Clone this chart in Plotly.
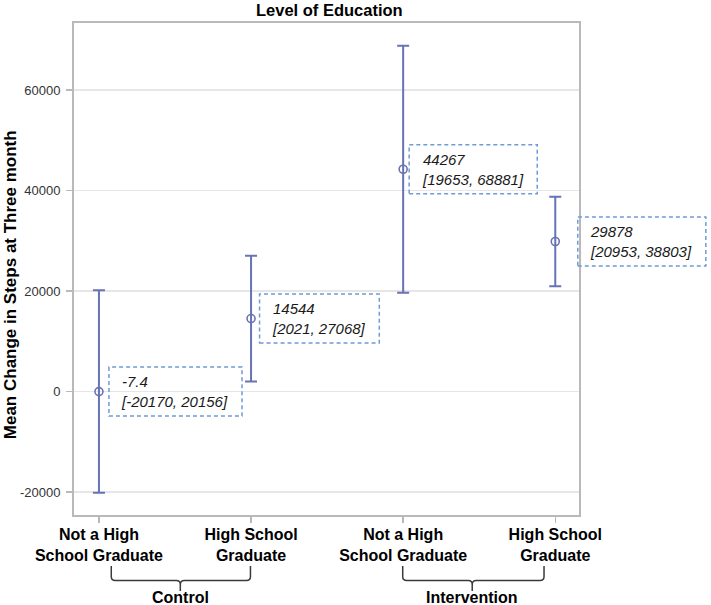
import plotly.graph_objects as go

# ---- data ----
categories = ["Not a High<br>School Graduate", "High School<br>Graduate",
              "Not a High<br>School Graduate", "High School<br>Graduate"]
groups = ["Control", "Intervention"]
means = [-7.4, 14544, 44267, 29878]
lower = [-20170, 2021, 19653, 20953]
upper = [20156, 27068, 68881, 38803]
mean_labels = ["-7.4", "14544", "44267", "29878"]
y_tickvals = [-20000, 0, 20000, 40000, 60000]
y_ticktext = ["-20000", "0", "20000", "40000", "60000"]

# ---- layout constants (page pixels) ----
W, H = 711, 605
PLOT_LEFT, PLOT_RIGHT, PLOT_TOP, PLOT_BOTTOM = 74, 579.5, 22.7, 515
L = PLOT_LEFT
T = PLOT_TOP
R = W - PLOT_RIGHT
B = H - PLOT_BOTTOM
PLOT_W = PLOT_RIGHT - PLOT_LEFT
PLOT_H = PLOT_BOTTOM - PLOT_TOP
X_RANGE = [-0.164, 3.156]
Y_RANGE = [-24580, 73390]
FONT = "Liberation Sans, Arial, sans-serif"
BAR_COLOR = "#6773b4"
BOX_COLOR = "#6f9bd6"
LABEL_DX = [10, 8.5, 6, 22.5]      # pixel offset of label box from point
GROUP_SPAN = [(0.081, 0.996, 0.535), (1.997, 2.926, 2.454)]  # bracket left/right/centre (x data)


def px_to_paper_y(py):
    return (PLOT_BOTTOM - py) / PLOT_H


def px_to_paper_x(px):
    return (px - PLOT_LEFT) / PLOT_W


def xdata_to_paper(x):
    return (x - X_RANGE[0]) / (X_RANGE[1] - X_RANGE[0])


def ydata_to_paper(y):
    return (y - Y_RANGE[0]) / (Y_RANGE[1] - Y_RANGE[0])


def text_width(s, size=15):
    w = 0
    for ch in s:
        if ch.isdigit():
            w += 0.556
        elif ch == "-":
            w += 0.333
        else:
            w += 0.278
    return w * size


xs = list(range(len(means)))

fig = go.Figure()
fig.add_trace(go.Scatter(
    x=xs, y=means, mode="markers",
    marker=dict(symbol="circle-open", size=8, color=BAR_COLOR, line=dict(width=1.6)),
    error_y=dict(type="data", symmetric=False,
                 array=[u - m for u, m in zip(upper, means)],
                 arrayminus=[m - lo for m, lo in zip(means, lower)],
                 color=BAR_COLOR, thickness=2, width=6),
    showlegend=False, cliponaxis=False, hoverinfo="skip",
))

shapes = []
annotations = []

# label boxes (paper-referenced so they are not clipped at the plot edge)
for i, (m, lo, hi, lab) in enumerate(zip(means, lower, upper, mean_labels)):
    line2 = f"[{lo}, {hi}]"
    tw = max(text_width(lab), text_width(line2))
    bw = tw + 28
    dx = LABEL_DX[i]
    shapes.append(dict(type="rect", xref="paper", yref="paper",
                       xsizemode="pixel", ysizemode="pixel",
                       xanchor=xdata_to_paper(i), yanchor=ydata_to_paper(m),
                       x0=dx, x1=dx + bw, y0=-24.5, y1=24.5,
                       line=dict(color=BOX_COLOR, width=1.5, dash="4px,3px"),
                       fillcolor="rgba(0,0,0,0)", layer="above"))
    annotations.append(dict(x=i, y=m, xref="x", yref="y",
                            text=f"<i>{lab}<br>{line2}</i>",
                            showarrow=False, xanchor="left", yanchor="middle",
                            xshift=dx + 10.5, yshift=0, align="left",
                            font=dict(family=FONT, size=15, color="#1a1a1a")))

# group brackets
dxp = 4 / (PLOT_W / (X_RANGE[1] - X_RANGE[0]))
yt = px_to_paper_y(566)
yc0 = px_to_paper_y(576.5)
yh = px_to_paper_y(580.5)
yc1 = px_to_paper_y(584.5)
yb = px_to_paper_y(591)
for (xl, xr, xc), g in zip(GROUP_SPAN, groups):
    path = (f"M {xl},{yt} L {xl},{yc0} Q {xl},{yh} {xl + dxp},{yh} "
            f"L {xc - dxp},{yh} Q {xc},{yh} {xc},{yc1} L {xc},{yb} "
            f"M {xc},{yc1} Q {xc},{yh} {xc + dxp},{yh} "
            f"L {xr - dxp},{yh} Q {xr},{yh} {xr},{yc0} L {xr},{yt}")
    shapes.append(dict(type="path", xref="x", yref="paper", path=path,
                       line=dict(color="#3a3a3a", width=1.5)))
    annotations.append(dict(x=xc, y=px_to_paper_y(597.5), xref="x", yref="paper",
                            text=f"<b>{g}</b>", showarrow=False,
                            xanchor="center", yanchor="middle",
                            font=dict(family=FONT, size=16, color="#000000")))

# title
annotations.append(dict(x=px_to_paper_x(329.5), y=px_to_paper_y(9.5), xref="paper", yref="paper",
                        text="<b>Level of Education</b>", showarrow=False,
                        xanchor="center", yanchor="middle",
                        font=dict(family=FONT, size=16.5, color="#000000")))
# y axis title
annotations.append(dict(x=px_to_paper_x(10.5), y=px_to_paper_y(284.5), xref="paper", yref="paper",
                        text="<b>Mean Change in Steps at Three month</b>", showarrow=False,
                        textangle=-90, xanchor="center", yanchor="middle",
                        font=dict(family=FONT, size=17, color="#000000")))

fig.update_layout(
    width=W, height=H,
    margin=dict(l=L, r=R, t=T, b=B, pad=0, autoexpand=False),
    paper_bgcolor="white", plot_bgcolor="white",
    shapes=shapes, annotations=annotations,
    xaxis=dict(range=X_RANGE, tickvals=xs, ticktext=[f"<b>{c}</b>" for c in categories],
               showgrid=False, zeroline=False,
               showline=True, mirror=True, linecolor="#b9b9b9", linewidth=2,
               ticks="outside", ticklen=6, tickcolor="#b9b9b9", tickwidth=1.5,
               ticklabelstandoff=-2,
               tickfont=dict(family=FONT, size=16, color="#000000")),
    yaxis=dict(range=Y_RANGE, tickvals=y_tickvals, ticktext=y_ticktext,
               showgrid=True, gridcolor="#e6e6e6", gridwidth=1.5, zeroline=False,
               showline=True, mirror=True, linecolor="#b9b9b9", linewidth=2,
               ticks="outside", ticklen=6, tickcolor="#b9b9b9", tickwidth=1.5,
               ticklabelstandoff=3,
               tickfont=dict(family=FONT, size=13, color="#333333")),
)

fig.write_html(
    "out.html",
    config={"displayModeBar": False, "staticPlot": True},
    post_script="document.body.style.margin='0px';document.body.style.overflow='hidden';",
)
